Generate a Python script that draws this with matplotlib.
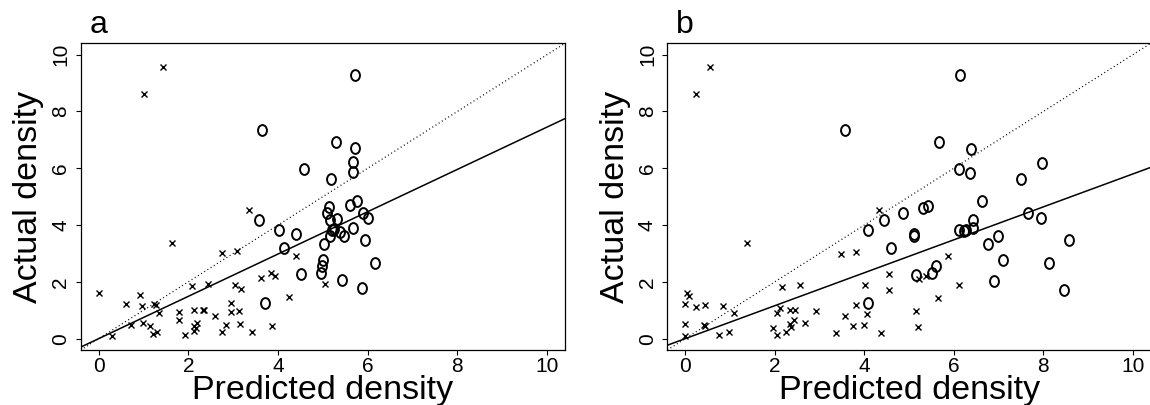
import numpy as np
import matplotlib
matplotlib.use("Agg")
import matplotlib.pyplot as plt
from matplotlib.path import Path
from matplotlib.transforms import Affine2D

plt.rcParams['font.family'] = ['Liberation Sans', 'DejaVu Sans']

# Panel a: low density sites (x) and high density sites (o)
a_low_pred = [0.00, 1.64, 3.36, 2.76, 3.08, 0.62, 0.92, 0.97, 1.24, 1.27, 1.35, 0.71,
              0.29, 0.98, 1.15, 1.21, 1.29, 2.08, 2.44, 1.80, 1.79, 2.13, 2.33, 2.36,
              2.60, 1.93, 2.13, 2.12, 2.20, 2.17, 2.84, 2.76, 3.16, 3.03, 3.18, 2.96,
              2.96, 3.13, 3.41, 3.62, 3.84, 3.93, 3.86, 4.24, 4.39, 5.04, 1.01, 1.44]
a_low_act = [1.61, 3.38, 4.52, 3.01, 3.07, 1.23, 1.52, 1.14, 1.23, 1.17, 0.91, 0.49,
             0.08, 0.54, 0.46, 0.16, 0.22, 1.84, 1.91, 0.93, 0.66, 1.00, 1.02, 1.01,
             0.81, 0.14, 0.28, 0.46, 0.55, 0.38, 0.49, 0.25, 0.52, 1.90, 1.76, 1.25,
             0.93, 0.99, 0.22, 2.13, 2.31, 2.20, 0.46, 1.46, 2.90, 1.91, 8.61, 9.55]
a_high_pred = [3.58, 4.03, 4.41, 4.13, 4.51, 3.71, 5.29, 5.71, 5.67, 5.67, 4.58, 5.18,
               5.77, 5.60, 5.13, 5.10, 5.90, 6.01, 5.16, 5.32, 5.25, 5.21, 5.38, 5.47,
               5.17, 5.67, 5.03, 5.93, 5.01, 4.99, 4.96, 5.43, 5.88, 6.16, 3.64, 5.72]
a_high_act = [4.19, 3.84, 3.70, 3.20, 2.26, 1.25, 6.92, 6.70, 6.21, 5.86, 5.98, 5.62,
              4.85, 4.70, 4.62, 4.41, 4.41, 4.26, 4.17, 4.20, 3.87, 3.82, 3.76, 3.62,
              3.62, 3.91, 3.35, 3.49, 2.78, 2.57, 2.32, 2.05, 1.77, 2.67, 7.35, 9.28]

# Panel b
b_low_pred = [0.03, 0.08, 0.00, 0.25, 0.45, 0.85, 1.09, 0.00, 0.42, 0.45, 0.00, 0.76,
              0.98, 1.38, 2.17, 2.56, 2.11, 2.04, 2.35, 2.45, 2.43, 2.34, 2.37, 1.95,
              2.04, 2.26, 2.67, 2.91, 3.36, 3.47, 3.82, 3.56, 3.75, 4.00, 3.82, 4.01,
              4.05, 4.37, 4.32, 4.55, 4.55, 5.22, 5.37, 5.86, 6.12, 5.64, 5.16, 5.19,
              0.25, 0.56]
b_low_act = [1.60, 1.51, 1.23, 1.13, 1.20, 1.14, 0.90, 0.52, 0.48, 0.44, 0.08, 0.14,
             0.22, 3.37, 1.81, 1.90, 1.08, 0.90, 1.01, 1.01, 0.66, 0.52, 0.40, 0.38,
             0.13, 0.22, 0.55, 0.99, 0.20, 2.97, 3.05, 0.79, 0.46, 0.49, 1.20, 1.90,
             0.87, 0.20, 4.52, 2.26, 1.73, 2.11, 2.20, 2.91, 1.90, 1.43, 0.97, 0.42,
             8.61, 9.55]
b_high_pred = [3.57, 5.67, 6.38, 6.12, 6.35, 7.96, 7.50, 6.64, 5.32, 5.43, 4.87, 4.44,
               4.09, 5.10, 5.10, 6.42, 6.42, 6.12, 6.23, 6.27, 7.65, 7.95, 6.98, 6.76,
               4.60, 8.58, 7.09, 8.12, 5.60, 5.51, 5.16, 6.90, 8.46, 4.08, 6.14]
b_high_act = [7.35, 6.91, 6.68, 5.97, 5.82, 6.19, 5.61, 4.84, 4.60, 4.67, 4.41, 4.17,
              3.84, 3.70, 3.60, 4.17, 3.90, 3.84, 3.78, 3.82, 4.41, 4.26, 3.62, 3.32,
              3.19, 3.46, 2.76, 2.67, 2.55, 2.31, 2.25, 2.03, 1.73, 1.25, 9.27]

# fitted slopes (line through origin)
a_slope = 0.745
b_slope = 0.58

panel_letters = ["a", "b"]
ticks = [0, 2, 4, 6, 8, 10]

# letter-like "O": a slightly tall ellipse
circ = Path.unit_circle()
o_marker = Path(Affine2D().scale(0.82, 1.0).transform(circ.vertices), circ.codes)


def draw_panel(ax, low_pred, low_act, high_pred, high_act, slope, letter):
    lim = (-0.4, 10.4)
    ax.set_xlim(lim)
    ax.set_ylim(lim)

    # 1:1 line and fitted line
    xs = np.array(lim)
    ax.plot(xs, xs, color='black', lw=0.9, linestyle=(0, (0.8, 2.2)))
    ax.plot(xs, slope * xs, color='black', lw=1.1)

    ax.plot(low_pred, low_act, linestyle='none', marker='x', ms=4.8, mew=1.0,
            color='black')
    ax.plot(high_pred, high_act, linestyle='none', marker=o_marker, ms=7.8,
            mew=1.4, mfc='none', mec='black')

    ax.set_xticks(ticks)
    ax.set_yticks(ticks)
    ax.tick_params(axis='both', direction='out', length=3.5, width=0.8,
                   labelsize=15)
    ax.tick_params(axis='x', pad=1.5)
    ax.tick_params(axis='y', pad=4)
    for lab in ax.get_yticklabels():
        lab.set_rotation(90)
        lab.set_va('center')
    for sp in ax.spines.values():
        sp.set_linewidth(0.9)

    ax.set_xlabel("Predicted density", fontsize=24.5, labelpad=-1)
    ax.set_ylabel("Actual density", fontsize=24.5, labelpad=5)
    ax.text(0.018, 1.035, letter, transform=ax.transAxes, fontsize=23,
            va='baseline', ha='left')


fig = plt.figure(figsize=(11.5, 4.05), dpi=100)
ax_a = fig.add_axes([0.0702, 0.1358, 0.4211, 0.7573])
ax_b = fig.add_axes([0.5803, 0.1358, 0.4204, 0.7573])

draw_panel(ax_a, a_low_pred, a_low_act, a_high_pred, a_high_act, a_slope,
           panel_letters[0])
draw_panel(ax_b, b_low_pred, b_low_act, b_high_pred, b_high_act, b_slope,
           panel_letters[1])

fig.savefig("out.png", dpi=100)
